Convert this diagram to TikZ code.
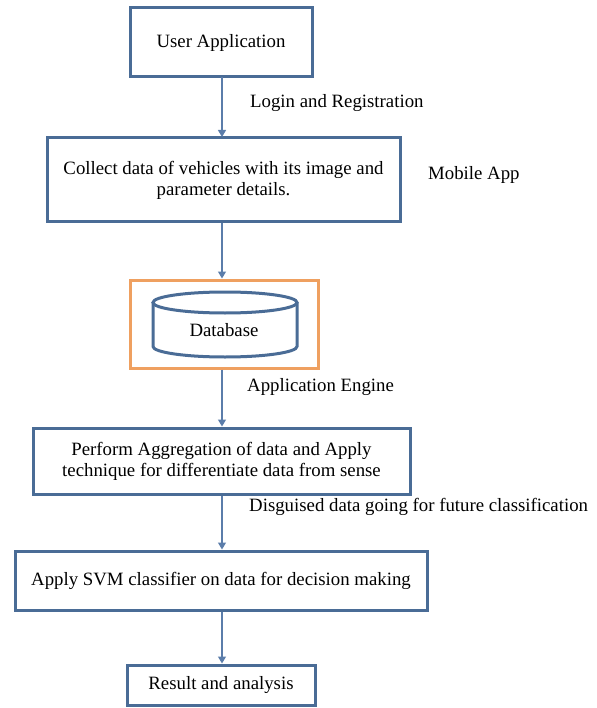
\documentclass[tikz,border=0pt]{standalone}
\usepackage{fontspec}
\setmainfont{Liberation Serif}
\usetikzlibrary{arrows.meta}
\definecolor{boxblue}{HTML}{4A6C96}
\definecolor{arrblue}{HTML}{5B7DAA}
\definecolor{dborange}{HTML}{EFA060}
\begin{document}
\begin{tikzpicture}[x=1pt,y=-1pt,
  every node/.style={font=\fontsize{18.8}{21}\selectfont},
  procbox/.style={draw=boxblue, line width=3pt, fill=white, inner sep=0pt, align=center},
  arr/.style={draw=arrblue, line width=1.3pt, -{Triangle[length=7pt,width=8pt]}},
  lbl/.style={anchor=west, inner sep=0pt}]
\useasboundingbox (0,0) rectangle (596,708);
% boxes
\node[procbox, minimum width=182pt, minimum height=69pt] (user) at (221,42.5) {User Application};
\node[procbox, minimum width=353pt, minimum height=84pt] (collect) at (223.5,180) {Collect data of vehicles with its image and\\parameter details.};
\node[draw=dborange, line width=3pt, fill=white, minimum width=188pt, minimum height=88pt, inner sep=0pt] (db) at (224,324) {};
\node[procbox, minimum width=377pt, minimum height=66pt] (perform) at (221.5,461) {Perform Aggregation of data and Apply\\technique for differentiate data from sense};
\node[procbox, minimum width=412pt, minimum height=59pt] (svm) at (221,580.5) {Apply SVM classifier on data for decision making};
\node[procbox, minimum width=188pt, minimum height=40pt] (result) at (221,685) {Result and analysis};
% cylinder
\draw[boxblue, line width=3pt, fill=white] (153,302.5) -- (153,346.5) arc[start angle=180, end angle=360, x radius=72pt, y radius=10.5pt] -- (297,302.5);
\draw[boxblue, line width=3pt] (225,302.5) ellipse[x radius=72pt, y radius=10.5pt];
\node (dbtext) at (224,330) {Database};
% connectors
\draw[arr] (222,77) coordinate (u1) -- (222,137) coordinate (u2);
\draw[arr] (collect.south -| u1) -- (db.north -| u1);
\draw[arr] (db.south -| u1) -- (perform.north -| u1);
\draw[arr] (perform.south -| u1) -- (svm.north -| u1);
\draw[arr] (svm.south -| u1) -- (result.north -| u1);
% labels
\node[lbl] (l1) at (250,103) {Login and Registration};
\node[lbl] (l2) at (428,175) {Mobile App};
\node[lbl] (l3) at (247,387) {Application Engine};
\node[lbl] (l4) at (249,507) {Disguised data going for future classification};
\end{tikzpicture}
\end{document}
